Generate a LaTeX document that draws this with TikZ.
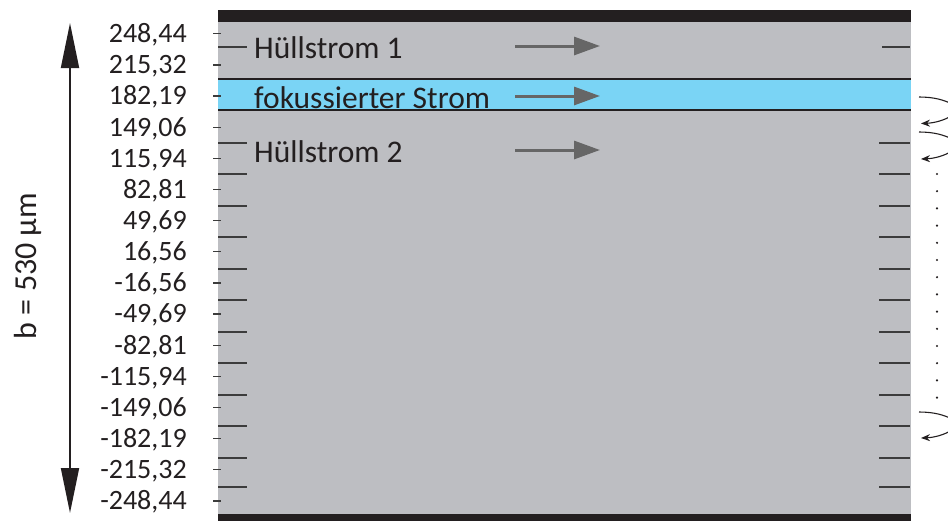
\documentclass[tikz,border=0pt]{standalone}
\usepackage{fontspec}
\setmainfont{Carlito}
\usetikzlibrary{arrows.meta}
\definecolor{chgray}{RGB}{189,190,194}
\definecolor{chblue}{RGB}{122,212,245}
\definecolor{chblack}{RGB}{35,31,32}
\definecolor{flowgray}{RGB}{102,102,102}
\definecolor{tickgray}{RGB}{60,60,60}
\begin{document}
\begin{tikzpicture}[x=1pt,y=-1pt,
  ticklabel/.style={anchor=base east,inner sep=0pt,font=\fontsize{28}{30}\selectfont,text=chblack},
  bandlabel/.style={anchor=base west,inner sep=0pt,font=\fontsize{31.5}{33}\selectfont,text=chblack},
  flow/.style={draw=flowgray,line width=3pt,-{Triangle[length=26pt,width=18pt]}},
  innertick/.style={draw=tickgray,line width=1.3pt},
  outertick/.style={draw=tickgray,line width=1.3pt},
  bendline/.style={draw=chblack,line width=1.1pt},
  bendarrow/.style={draw=chblack,line width=1.1pt,-{Stealth[length=9pt,width=7pt]}}]
\useasboundingbox (0,0) rectangle (948,520);
\clip (0,0) rectangle (948,520);
% channel
\fill[chgray] (218,22) rectangle (911,514);
\fill[chblack] (218,10) rectangle (911,22);
\fill[chblack] (218,514) rectangle (911,524);
\fill[chblue] (218,79) rectangle (911,110);
\draw[chblack,line width=1.2pt] (218,79) -- (911,79) (218,110) -- (911,110);
% inner ticks
\foreach \yy in {143,174,206,237,269,300,332,363,395,426,458,487}{
  \draw[innertick] (218,\yy) -- (247,\yy);
  \draw[innertick] (879,\yy) -- (910,\yy);
}
\draw[innertick] (218,47) -- (247,47);
\draw[innertick] (882,47) -- (910,47);
% outer ticks and labels
\foreach \k in {0,...,15}{
  \pgfmathsetmacro{\yy}{33.7+31.15*\k}
  \draw[outertick] (213,\yy) -- (221,\yy);
}
\foreach \lab [count=\k from 0] in {{248,44},{215,32},{182,19},{149,06},{115,94},{82,81},{49,69},{16,56},{-16,56},{-49,69},{-82,81},{-115,94},{-149,06},{-182,19},{-215,32},{-248,44}}{
  \pgfmathsetmacro{\yy}{33.7+31.15*\k+8.9}
  \node[ticklabel] (tl\k) at (187,\yy) {\lab};
}
% band labels
\node[bandlabel] (h1) at (254,58) {Hüllstrom 1};
\node[bandlabel] (fs) at (254,108) {fokussierter Strom};
\node[bandlabel] (h2) at (254,162.5) {Hüllstrom 2};
% flow arrows
\coordinate (a1s) at (515,46); \coordinate (a1e) at (600,46);
\coordinate (a2s) at (515,96); \coordinate (a2e) at (600,96);
\coordinate (a3s) at (515,150); \coordinate (a3e) at (600,150);
\draw[flow] (a1s) -- (a1e);
\draw[flow] (a2s) -- (a2e);
\draw[flow] (a3s) -- (a3e);
% width arrow
\coordinate (wb) at (70,513); \coordinate (wt) at (70,23);
\draw[chblack,line width=1.8pt,{Triangle[length=45pt,width=18pt]}-{Triangle[length=45pt,width=18pt]}] (wb) -- (wt);
\node[rotate=90,font=\fontsize{32}{34}\selectfont,text=chblack] (bw) at (28,266) {b = 530 µm};
% right side bends
\foreach \yo/\yi in {97/123.5,132/159,412/438}{
  \draw[bendline] (919,\yo) .. controls (934,\yo) and (944,\yo+3) .. (952,\yo+7);
  \draw[bendarrow] (952,\yi-8) .. controls (944,\yi-3) and (934,\yi-0.5) .. (921,\yi);
}
\foreach \k in {0,...,13}{
  \fill[chblack] (937,174+17.2*\k) circle (1.2pt);
}
\end{tikzpicture}
\end{document}
